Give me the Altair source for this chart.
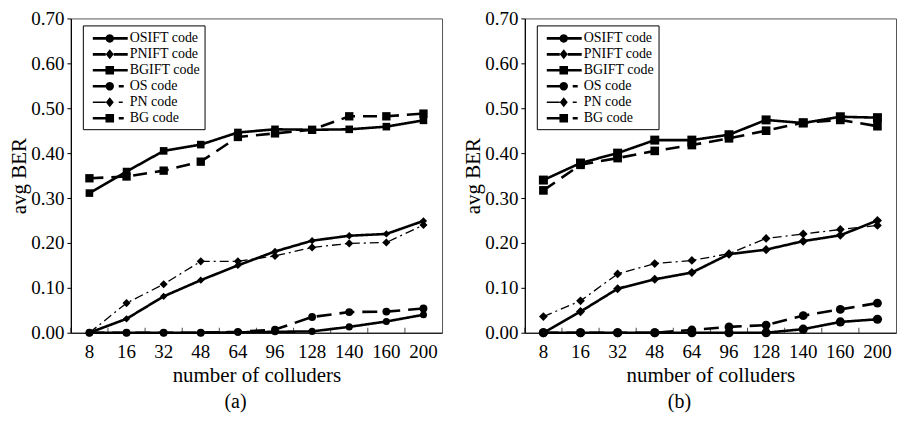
import altair as alt
import pandas as pd

colluders = ["8", "16", "32", "48", "64", "96", "128", "140", "160", "200"]
series_names = ["OSIFT code", "PNIFT code", "BGIFT code", "OS code", "PN code", "BG code"]

# panel (a)
a_osift = [0, 0, 0, 0, 0.001, 0.002, 0.003, 0.013, 0.025, 0.040]
a_pnift = [0, 0.031, 0.081, 0.117, 0.150, 0.181, 0.205, 0.216, 0.220, 0.249]
a_bgift = [0.311, 0.359, 0.405, 0.419, 0.446, 0.453, 0.452, 0.453, 0.459, 0.473]
a_os = [0, 0, 0, 0, 0.002, 0.007, 0.035, 0.046, 0.047, 0.054]
a_pn = [0, 0.066, 0.108, 0.159, 0.159, 0.171, 0.190, 0.199, 0.201, 0.240]
a_bg = [0.344, 0.348, 0.361, 0.381, 0.436, 0.444, 0.452, 0.482, 0.482, 0.488]

# panel (b)
b_osift = [0, 0, 0, 0, 0, 0, 0, 0.008, 0.024, 0.030]
b_pnift = [0, 0.047, 0.098, 0.119, 0.134, 0.175, 0.185, 0.204, 0.217, 0.250]
b_bgift = [0.340, 0.378, 0.400, 0.429, 0.429, 0.441, 0.474, 0.467, 0.481, 0.479]
b_os = [0, 0, 0, 0, 0.006, 0.013, 0.017, 0.038, 0.052, 0.066]
b_pn = [0.036, 0.071, 0.131, 0.154, 0.161, 0.176, 0.210, 0.220, 0.230, 0.239]
b_bg = [0.317, 0.374, 0.389, 0.405, 0.418, 0.433, 0.450, 0.468, 0.474, 0.460]

y_ticks = [0.0, 0.1, 0.2, 0.3, 0.4, 0.5, 0.6, 0.7]

FONT = "Liberation Serif"


def build_df(cols):
    rows = []
    for name, vals in zip(series_names, cols):
        for n, v in zip(colluders, vals):
            rows.append({"n": n, "series": name, "ber": v})
    return pd.DataFrame(rows)


df_a = build_df([a_osift, a_pnift, a_bgift, a_os, a_pn, a_bg])
df_b = build_df([b_osift, b_pnift, b_bgift, b_os, b_pn, b_bg])

# ---- legend glyphs (line segment + marker), built in pixel units ----
LEG_SIZE = 324            # sqrt = 18 px  -> one path unit = 9 px
UNIT = 9.0
S = 6.0                   # glyph start (px from entry left)


def ux(px):
    return round((px - UNIT) / UNIT, 4)


def uy(py):
    return round(py / UNIT, 4)


def rect(x0, x1, hh):
    return f"M{ux(x0)},{uy(-hh)} H{ux(x1)} V{uy(hh)} H{ux(x0)} Z "


def circle(cx, r):
    rr = uy(r)
    return (f"M{ux(cx + r)},0 A{rr},{rr} 0 1,1 {ux(cx - r)},0 "
            f"A{rr},{rr} 0 1,1 {ux(cx + r)},0 Z ")


def square(cx, h):
    return f"M{ux(cx - h)},{uy(-h)} H{ux(cx + h)} V{uy(h)} H{ux(cx - h)} Z "


def diamond(cx, hw, hh):
    return (f"M{ux(cx)},{uy(-hh)} L{ux(cx + hw)},0 L{ux(cx)},{uy(hh)} "
            f"L{ux(cx - hw)},0 Z ")


MC = S + 17
solid_seg = rect(S, S + 13, 1.3) + rect(S + 21, S + 35, 1.3)
dash_seg = rect(S, S + 13, 1.3) + rect(S + 26, S + 31, 1.3)
thin_seg = rect(S, S + 13, 0.8) + rect(S + 26, S + 30, 0.8)
legend_paths = [
    solid_seg + circle(MC, 4.2),
    solid_seg + diamond(MC, 4.0, 5.0),
    solid_seg + square(MC, 4.3),
    dash_seg + circle(MC, 4.2),
    thin_seg + diamond(MC, 4.0, 5.0),
    dash_seg + square(MC, 4.3),
]

dashes = [[1, 0], [1, 0], [1, 0], [15, 8], [9, 4, 2, 4], [14, 8]]
shapes = ["circle", "diamond", "square", "circle", "diamond", "square"]


def panel(df, caption, sizes, cap_dx):
    x_enc = alt.X("n:N", sort=colluders,
                  scale=alt.Scale(type="band", paddingInner=0, paddingOuter=0),
                  axis=alt.Axis(title="number of colluders", labelAngle=0, tickSize=0,
                                labelPadding=10, titlePadding=3))
    y_enc = alt.Y("ber:Q", scale=alt.Scale(domain=[0, 0.7], nice=False),
                  axis=alt.Axis(title="avg BER", values=y_ticks, format=".2f",
                                tickSize=4, labelPadding=3, titlePadding=1, grid=False))
    dash_enc = alt.StrokeDash("series:N",
                              scale=alt.Scale(domain=series_names, range=dashes),
                              legend=None)
    base = alt.Chart(df)
    thick = base.transform_filter(alt.datum.series != "PN code").mark_line(
        color="black", strokeWidth=2.6).encode(x=x_enc, y=y_enc, strokeDash=dash_enc,
                                                detail="series:N")
    thin = base.transform_filter(alt.datum.series == "PN code").mark_line(
        color="black", strokeWidth=1.3).encode(x=x_enc, y=y_enc, strokeDash=dash_enc,
                                                detail="series:N")
    pts = base.mark_point(filled=True, color="black", opacity=1).encode(
        x=x_enc, y=y_enc,
        shape=alt.Shape("series:N", scale=alt.Scale(domain=series_names, range=shapes),
                        legend=None),
        size=alt.Size("series:N", scale=alt.Scale(domain=series_names, range=sizes),
                      legend=None),
    )
    ticks = base.transform_filter(alt.datum.series == "OSIFT code").mark_tick(
        orient="vertical", size=5, thickness=1, color="black", yOffset=-2.5
    ).encode(x=alt.X("n:N", sort=colluders, bandPosition=0), y=alt.datum(0))
    leg = base.transform_filter("false").mark_point(filled=True, color="black").encode(
        x=x_enc, y=y_enc,
        shape=alt.Shape("series:N",
                        scale=alt.Scale(domain=series_names, range=legend_paths),
                        legend=alt.Legend(title=None, orient="none", legendX=12, legendY=7,
                                          symbolSize=LEG_SIZE, symbolFillColor="black",
                                          symbolStrokeColor="black", symbolStrokeWidth=0,
                                          symbolOpacity=1,
                                          labelFont=FONT, labelFontSize=14,
                                          labelColor="black", labelOffset=25,
                                          labelExpr="datum.label + '\u2002\u2009'",
                                          rowPadding=0, padding=4,
                                          strokeColor="black", fillColor="white")),
    )
    return alt.layer(thick, thin, ticks, pts, leg).resolve_scale(
        shape="independent"
    ).properties(
        width=372, height=315,
        title=alt.TitleParams(caption, orient="bottom", fontSize=20, font=FONT,
                              fontWeight="normal", dx=cap_dx, offset=6, color="black"),
    )


pa = panel(df_a, "(a)", [50, 70, 85, 75, 70, 85], -21)
pb = panel(df_b, "(b)", [85, 75, 110, 85, 75, 110], -31)

chart = alt.hconcat(pa, pb, spacing=19).resolve_scale(
    shape="independent", strokeDash="independent", size="independent"
).resolve_legend(shape="independent").configure(
    font=FONT, padding={"top": 0, "bottom": 1, "left": 0, "right": 0}, background="white"
).configure_axis(
    labelFont=FONT, titleFont=FONT, labelFontSize=19, titleFontSize=21,
    titleFontWeight="normal", labelColor="black", titleColor="black",
    domainColor="black", domainWidth=1.2, tickColor="black"
).configure_view(stroke="#555", strokeWidth=1)

chart.save("out.html", embed_options={"renderer": "svg", "actions": False})
